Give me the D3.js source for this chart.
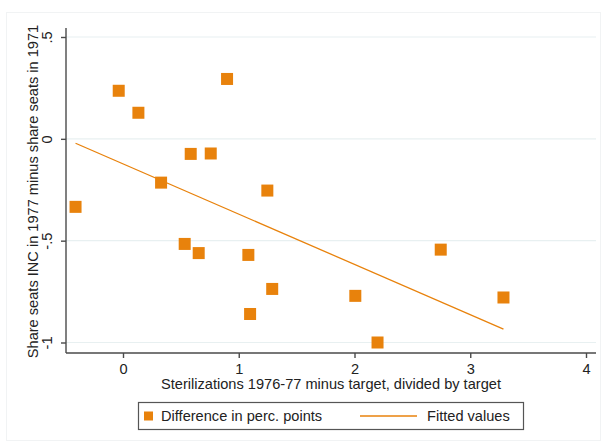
<!DOCTYPE html>
<html>
<head>
<meta charset="utf-8">
<script src="https://cdn.jsdelivr.net/npm/d3@7"></script>
<style>
  html, body { margin: 0; padding: 0; background: #fff; }
  svg { display: block; font-family: "Liberation Sans", Arial, Helvetica, sans-serif; }
</style>
</head>
<body>
<svg id="chart" width="601" height="442"></svg>
<script>
// Sterilization overshoot vs. change in INC seat share, by state
const sterilizationGap = [-0.41, -0.037, 0.133, 0.329, 0.585, 0.758, 0.899, 0.533, 0.654,
                          1.247, 1.083, 1.289, 1.098, 2.007, 2.199, 2.745, 3.287];
const seatShareChange  = [-0.334, 0.236, 0.128, -0.215, -0.074, -0.072, 0.294, -0.516, -0.561,
                          -0.254, -0.570, -0.737, -0.860, -0.771, -1.0, -0.544, -0.779];
const xTicks = [0, 1, 2, 3, 4];
const yTicks = [-1, -0.5, 0, 0.5];
const yTickLabels = ["-1", "-.5", "0", ".5"];
const xTitle = "Sterilizations 1976-77 minus target, divided by target";
const yTitle = "Share seats INC in 1977 minus share seats in 1971";
const legendLabels = ["Difference in perc. points", "Fitted values"];

const orange = "#e8820c";
const axisColor = "#4a4a4a";
const gridColor = "#e8f0f1";
const fontSize = 14.6;

const svg = d3.select("#chart");
const plot = { left: 66, right: 596, top: 28, bottom: 353 };

const x = d3.scaleLinear().domain([0, 4]).range([123, 586]);
const y = d3.scaleLinear().domain([-1, 0.5]).range([342.5, 37]);

// outer graph region frame
svg.append("rect").attr("x", 6.5).attr("y", 12.5).attr("width", 594).attr("height", 428)
  .attr("fill", "none").attr("stroke", "#f1f3f4");

// horizontal gridlines
svg.append("g").selectAll("line").data(yTicks).join("line")
  .attr("x1", plot.left).attr("x2", plot.right)
  .attr("y1", d => y(d)).attr("y2", d => y(d))
  .attr("stroke", gridColor).attr("stroke-width", 1.2);

// x axis
const xAxis = svg.append("g").attr("transform", `translate(0,${plot.bottom})`)
  .call(d3.axisBottom(x).tickValues(xTicks).tickFormat(d3.format("d")).tickSize(5).tickSizeOuter(0));
xAxis.select(".domain").attr("d", `M${plot.left},0H${plot.right}`);
xAxis.selectAll("line, path").attr("stroke", axisColor).attr("stroke-width", 1.4);
xAxis.selectAll("text").attr("font-size", fontSize).attr("fill", "#222").attr("dy", "0.9em")
  .attr("font-family", "Liberation Sans, Arial, sans-serif");

// y axis with rotated tick labels
const yAxis = svg.append("g").attr("transform", `translate(${plot.left},0)`)
  .call(d3.axisLeft(y).tickValues(yTicks).tickFormat((d, i) => yTickLabels[i]).tickSize(5).tickSizeOuter(0));
yAxis.select(".domain").attr("d", `M0,${plot.top}V${plot.bottom}`);
yAxis.selectAll("line, path").attr("stroke", axisColor).attr("stroke-width", 1.4);
yAxis.selectAll(".tick text")
  .attr("x", 0).attr("dy", null)
  .attr("transform", "translate(-14,0) rotate(-90)")
  .attr("text-anchor", "middle")
  .attr("font-size", fontSize).attr("fill", "#222")
  .attr("font-family", "Liberation Sans, Arial, sans-serif");

// axis titles
svg.append("text").attr("x", 331).attr("y", 389).attr("text-anchor", "middle")
  .attr("font-size", fontSize).attr("fill", "#222").text(xTitle);
svg.append("text").attr("transform", `translate(38,${(plot.top + plot.bottom) / 2 + 1}) rotate(-90)`)
  .attr("text-anchor", "middle").attr("font-size", fontSize).attr("fill", "#222").text(yTitle);

// linear fit (OLS) over the observed range
const pts = sterilizationGap.map((v, i) => [v, seatShareChange[i]]);
const mx = d3.mean(pts, d => d[0]), my = d3.mean(pts, d => d[1]);
const slope = d3.sum(pts, d => (d[0] - mx) * (d[1] - my)) / d3.sum(pts, d => (d[0] - mx) ** 2);
const intercept = my - slope * mx;
const [xmin, xmax] = d3.extent(sterilizationGap);
const fit = [xmin, xmax].map(v => [v, intercept + slope * v]);

svg.append("path").datum(fit)
  .attr("d", d3.line().x(d => x(d[0])).y(d => y(d[1])))
  .attr("fill", "none").attr("stroke", orange).attr("stroke-width", 1.3);

// scatter markers
const ms = 12;
svg.append("g").selectAll("rect").data(pts).join("rect")
  .attr("x", d => x(d[0]) - ms / 2).attr("y", d => y(d[1]) - ms / 2)
  .attr("width", ms).attr("height", ms).attr("fill", orange);

// legend
const lg = svg.append("g");
lg.append("rect").attr("x", 138.5).attr("y", 402.5).attr("width", 385).attr("height", 27)
  .attr("fill", "#fff").attr("stroke", "#555").attr("stroke-width", 1.2);
lg.append("rect").attr("x", 144).attr("y", 411.5).attr("width", 9).attr("height", 9).attr("fill", orange);
lg.append("text").attr("x", 161).attr("y", 421).attr("font-size", fontSize).attr("fill", "#222").text(legendLabels[0]);
lg.append("line").attr("x1", 360).attr("x2", 417).attr("y1", 416).attr("y2", 416)
  .attr("stroke", orange).attr("stroke-width", 1.3);
lg.append("text").attr("x", 427).attr("y", 421).attr("font-size", fontSize).attr("fill", "#222").text(legendLabels[1]);
</script>
</body>
</html>
